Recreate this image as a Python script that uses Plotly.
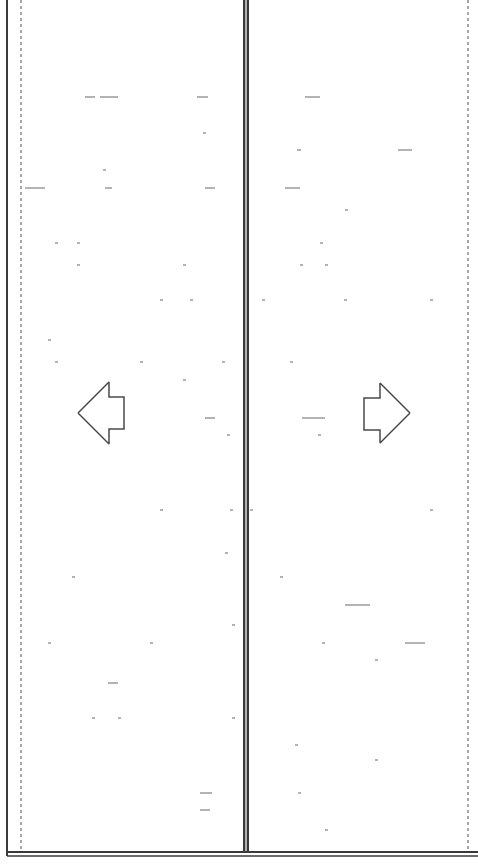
import plotly.graph_objects as go

# page size of the scanned sheet (pixels)
W, H = 478, 864

# ── frame lines (x0, x1, y0, y1) ─────────────────────────────────────
frame_x0 = [7, 7, 244, 248]
frame_x1 = [7, 478, 244, 248]
frame_y0 = [0, 852, 0, 0]
frame_y1 = [856, 852, 852, 852]
bottom2_x = [7, 478]
bottom2_y = [856, 856]

# grey band between the two middle rules
band_x = [244, 248, 248, 244, 244]
band_y = [0, 0, 852, 852, 0]

# dotted edge columns
dots_left_x = [21, 21]
dots_right_x = [468, 468]
dots_y = [0, 850]

# ── arrows (polygon vertices) ────────────────────────────────────────
left_arrow_x = [78, 109, 109, 124, 124, 109, 109, 78]
left_arrow_y = [413, 382, 397, 397, 429, 429, 444, 413]
right_arrow_x = [410, 380, 380, 364, 364, 380, 380, 410]
right_arrow_y = [413, 383, 398, 398, 430, 430, 443, 413]

# ── scan specks: short dashes (x start, x end, y) ────────────────────
speck_x0 = [85, 100, 197, 305, 203, 398, 297, 103, 25, 105, 205, 285, 345,
            55, 77, 320, 77, 183, 300, 325, 160, 190, 262, 344, 430, 48,
            55, 140, 222, 290, 183, 205, 302, 227, 318, 160, 230, 250, 430,
            225, 72, 280, 345, 232, 48, 150, 322, 405, 375, 108, 92, 118,
            232, 295, 375, 200, 298, 200, 325]
speck_x1 = [95, 118, 208, 320, 206, 412, 301, 106, 45, 112, 215, 300, 348,
            58, 80, 323, 80, 186, 303, 328, 163, 193, 265, 347, 433, 51,
            58, 143, 225, 293, 186, 215, 325, 230, 321, 163, 233, 253, 433,
            228, 75, 283, 370, 235, 51, 153, 325, 425, 378, 118, 95, 121,
            235, 298, 378, 212, 301, 210, 328]
speck_y = [97, 97, 97, 97, 133, 150, 150, 170, 188, 188, 188, 188, 210,
           243, 243, 243, 265, 265, 265, 265, 300, 300, 300, 300, 300, 340,
           362, 362, 362, 362, 380, 418, 418, 435, 435, 510, 510, 510, 510,
           553, 577, 577, 605, 625, 643, 643, 643, 643, 660, 683, 718, 718,
           718, 745, 760, 793, 793, 810, 830]

LINE = "#3a3a3a"
SPECK = "#9a9a9a"

fig = go.Figure()

fig.add_trace(go.Scatter(x=band_x, y=band_y, mode="lines", fill="toself",
                         fillcolor="#b0b0b0", line=dict(width=0),
                         hoverinfo="skip"))

for x0, x1, y0, y1 in zip(frame_x0, frame_x1, frame_y0, frame_y1):
    fig.add_trace(go.Scatter(x=[x0, x1], y=[y0, y1], mode="lines",
                             line=dict(color=LINE, width=2), hoverinfo="skip"))
fig.add_trace(go.Scatter(x=bottom2_x, y=bottom2_y, mode="lines",
                         line=dict(color=LINE, width=1.5), hoverinfo="skip"))

for xs in (dots_left_x, dots_right_x):
    fig.add_trace(go.Scatter(x=xs, y=dots_y, mode="lines",
                             line=dict(color="#8a8a8a", width=1.5, dash="dot"),
                             hoverinfo="skip"))

for ax, ay in ((left_arrow_x, left_arrow_y), (right_arrow_x, right_arrow_y)):
    fig.add_trace(go.Scatter(x=ax, y=ay, mode="lines", fill="toself",
                             fillcolor="white",
                             line=dict(color="#4a4a4a", width=1.5),
                             hoverinfo="skip"))

for x0, x1, y in zip(speck_x0, speck_x1, speck_y):
    fig.add_trace(go.Scatter(x=[x0, x1], y=[y, y], mode="lines",
                             line=dict(color=SPECK, width=1.5), hoverinfo="skip"))

fig.update_xaxes(range=[0, W], visible=False, fixedrange=True)
fig.update_yaxes(range=[H, 0], visible=False, fixedrange=True)
fig.update_layout(
    width=W, height=H,
    margin=dict(l=0, r=0, t=0, b=0),
    showlegend=False,
    plot_bgcolor="white",
    paper_bgcolor="white",
)

# drop the browser's default body margin so the sheet sits at the page corner
fig.write_html("out.html", post_script="document.body.style.margin='0';",
               config={"displayModeBar": False})
